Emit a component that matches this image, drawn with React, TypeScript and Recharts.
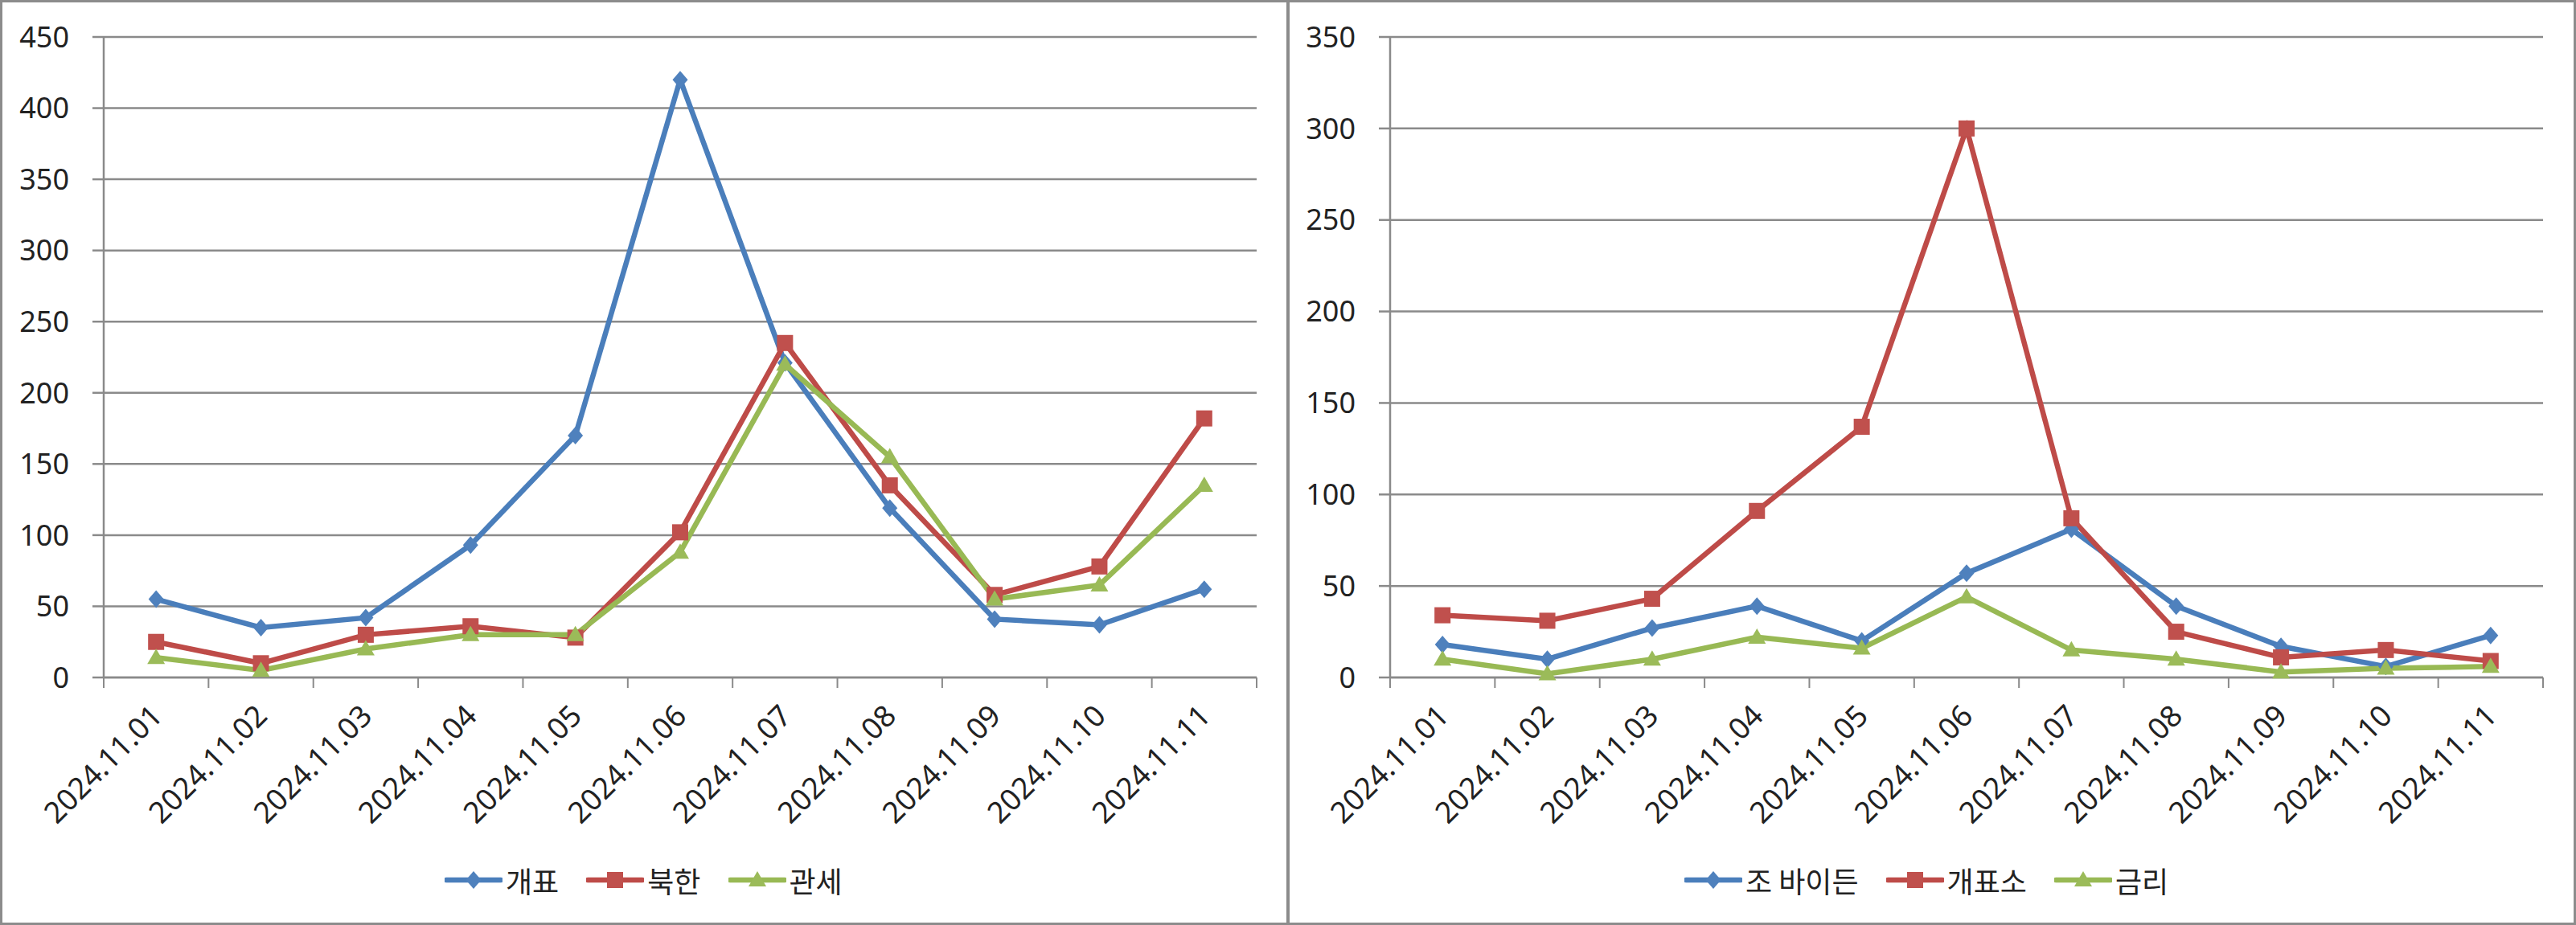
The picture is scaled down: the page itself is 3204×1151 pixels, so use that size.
import React from "react";
import { LineChart, Line, XAxis, YAxis, CartesianGrid } from "recharts";

const categories = [
  "2024.11.01", "2024.11.02", "2024.11.03", "2024.11.04", "2024.11.05", "2024.11.06",
  "2024.11.07", "2024.11.08", "2024.11.09", "2024.11.10", "2024.11.11",
];

// left panel
const gaepyo = [55, 35, 42, 93, 170, 420, 221, 119, 41, 37, 62];
const bukhan = [25, 10, 30, 36, 28, 102, 235, 135, 58, 78, 182];
const gwanse = [14, 5, 20, 30, 30, 88, 220, 155, 55, 65, 135];
const leftTicks = [0, 50, 100, 150, 200, 250, 300, 350, 400, 450];

// right panel
const biden = [18, 10, 27, 39, 20, 57, 81, 39, 17, 6, 23];
const gaepyoso = [34, 31, 43, 91, 137, 300, 87, 25, 11, 15, 9];
const geumri = [10, 2, 10, 22, 16, 44, 15, 10, 3, 5, 6];
const rightTicks = [0, 50, 100, 150, 200, 250, 300, 350];

const BLUE = { line: "#4a7ebb", mark: "#4f81bd" };
const RED = { line: "#be4b48", mark: "#c0504d" };
const GREEN = { line: "#98b954", mark: "#9bbb59" };

const W = 1604;
const H = 1151;
const M_LEFT = 129;
const M_RIGHT = 41;
const BAND = (W - M_LEFT - M_RIGHT) / categories.length;
const AXIS = "#8a8a8a";
const TEXT = "#222";
const NUM_FONT = "'Noto Sans', sans-serif";
const KR_FONT = "'Noto Sans CJK KR', 'Noto Sans', sans-serif";

type Shape = "diamond" | "square" | "triangle";

function marker(shape: Shape, cx: number, cy: number, fill: string, key?: any) {
  if (shape === "diamond") {
    return <path key={key} d={`M${cx},${cy - 11}L${cx + 9.5},${cy}L${cx},${cy + 11}L${cx - 9.5},${cy}Z`} fill={fill} />;
  }
  if (shape === "square") {
    return <rect key={key} x={cx - 10} y={cy - 10} width={20} height={20} fill={fill} />;
  }
  return <path key={key} d={`M${cx},${cy - 11}L${cx + 11},${cy + 8}L${cx - 11},${cy + 8}Z`} fill={fill} />;
}

function XTick(props: any) {
  const { x, y, payload, index } = props;
  const last = index === categories.length - 1;
  return (
    <g>
      <line x1={x - BAND / 2} y1={y} x2={x - BAND / 2} y2={y + 13} stroke={AXIS} strokeWidth={2} />
      {last && <line x1={x + BAND / 2} y1={y} x2={x + BAND / 2} y2={y + 13} stroke={AXIS} strokeWidth={2} />}
      <text
        transform={`translate(${x + 10},${y + 50}) rotate(-45)`}
        textAnchor="end"
        fontSize={37}
        fontFamily={NUM_FONT}
        fill={TEXT}
      >
        {payload.value}
      </text>
    </g>
  );
}

type Series = { key: string; name: string; color: { line: string; mark: string }; shape: Shape };

function Panel({ data, series, yMax, ticks, left, legendLeft }: {
  data: any[]; series: Series[]; yMax: number; ticks: number[]; left: number; legendLeft: number;
}) {
  return (
    <>
      <div style={{ position: "absolute", left, top: 0, width: W, height: H }}>
        <LineChart width={W} height={H} data={data} margin={{ top: 46, right: M_RIGHT, bottom: 0, left: 0 }}>
          <CartesianGrid vertical={false} stroke={AXIS} strokeWidth={2.5} />
          <XAxis
            dataKey="date"
            scale="band"
            interval={0}
            height={308}
            tickSize={0}
            tickMargin={0}
            tickLine={false}
            axisLine={{ stroke: AXIS, strokeWidth: 2.5 }}
            tick={<XTick />}
          />
          <YAxis
            width={M_LEFT}
            domain={[0, yMax]}
            ticks={ticks}
            interval={0}
            tickSize={14}
            tickMargin={29}
            tickLine={{ stroke: AXIS, strokeWidth: 2.5 }}
            axisLine={{ stroke: AXIS, strokeWidth: 2.5 }}
            tick={{ fontSize: 36, fontFamily: NUM_FONT, fill: TEXT }}
          />
          {series.map((s) => (
            <Line
              key={s.key}
              dataKey={s.key}
              name={s.name}
              stroke={s.color.line}
              strokeWidth={6.5}
              isAnimationActive={false}
              dot={(p: any) => marker(s.shape, p.cx, p.cy, s.color.mark, `${s.key}-${p.index}`)}
              activeDot={false}
            />
          ))}
        </LineChart>
      </div>
      <div
        style={{
          position: "absolute",
          left: legendLeft,
          top: 1074,
          height: 42,
          display: "flex",
          alignItems: "center",
          gap: 34,
          fontFamily: KR_FONT,
          fontSize: 36,
          color: TEXT,
          whiteSpace: "nowrap",
        }}
      >
        {series.map((s) => (
          <div key={s.key} style={{ display: "flex", alignItems: "center" }}>
            <svg width={72} height={26}>
              <line x1={2} y1={13} x2={70} y2={13} stroke={s.color.line} strokeWidth={6.5} strokeLinecap="round" />
              {marker(s.shape, 36, 13, s.color.mark)}
            </svg>
            <span style={{ marginLeft: 4 }}>{s.name}</span>
          </div>
        ))}
      </div>
      <div
        style={{
          position: "absolute",
          left,
          top: 0,
          width: W,
          height: H,
          boxSizing: "border-box",
          border: "3px solid #8c8c8c",
          pointerEvents: "none",
        }}
      />
    </>
  );
}

export default function App() {
  const leftData = categories.map((date, i) => ({ date, a: gaepyo[i], b: bukhan[i], c: gwanse[i] }));
  const rightData = categories.map((date, i) => ({ date, a: biden[i], b: gaepyoso[i], c: geumri[i] }));
  const leftSeries: Series[] = [
    { key: "a", name: "개표", color: BLUE, shape: "diamond" },
    { key: "b", name: "북한", color: RED, shape: "square" },
    { key: "c", name: "관세", color: GREEN, shape: "triangle" },
  ];
  const rightSeries: Series[] = [
    { key: "a", name: "조 바이든", color: BLUE, shape: "diamond" },
    { key: "b", name: "개표소", color: RED, shape: "square" },
    { key: "c", name: "금리", color: GREEN, shape: "triangle" },
  ];
  return (
    <div style={{ position: "absolute", left: 0, top: 0, width: 3204, height: H, background: "#fff" }}>
      <Panel data={leftData} series={leftSeries} yMax={450} ticks={leftTicks} left={0} legendLeft={553} />
      <Panel data={rightData} series={rightSeries} yMax={350} ticks={rightTicks} left={1600} legendLeft={2095} />
    </div>
  );
}
